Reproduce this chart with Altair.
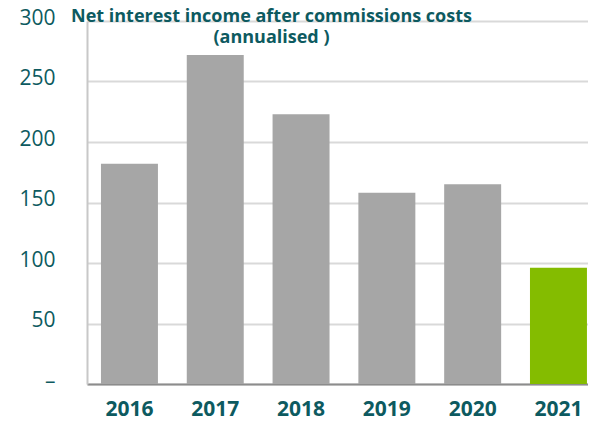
import altair as alt
import pandas as pd

years = ["2016", "2017", "2018", "2019", "2020", "2021"]
values = [182, 272, 223, 158, 165, 96]
colors = ["#a6a6a6", "#a6a6a6", "#a6a6a6", "#a6a6a6", "#a6a6a6", "#84bc00"]

df = pd.DataFrame({"year": years, "value": values, "color": colors})

TEAL = "#0d5a60"
FONT = "Open Sans"

chart = alt.Chart(df, title=alt.Title(
    ["Net interest income after commissions costs", "(annualised )"],
    fontSize=18, font=FONT, fontWeight="bold", color=TEAL,
    anchor="middle", dx=-66, offset=-40, lineHeight=21,
)).mark_bar().encode(
    x=alt.X("year:N", sort=years, title=None,
            scale=alt.Scale(paddingInner=0.336, paddingOuter=0.0875, align=0.93),
            axis=alt.Axis(labelAngle=0, labelFont=FONT, labelFontSize=21,
                          labelFontWeight="bold", labelColor=TEAL,
                          labelPadding=14, ticks=False, domainColor="#8c8c8c",
                          domainWidth=2, grid=False)),
    y=alt.Y("value:Q", title=None,
            scale=alt.Scale(domain=[0, 300], nice=False),
            axis=alt.Axis(values=[0, 50, 100, 150, 200, 250, 300],
                          labelExpr="datum.value == 0 ? '–' : datum.label",
                          labelFont=FONT, labelFontSize=21, labelColor=TEAL,
                          labelPadding=32, labelOffset=-3, ticks=False,
                          domainColor="#c8c8c8", domainWidth=2,
                          gridColor="#d9d9d9", gridWidth=2)),
    color=alt.Color("color:N", scale=None),
).properties(
    width=501, height=363,
    autosize=alt.AutoSizeParams(type="none"),
    padding={"left": 79, "top": 13, "right": 0, "bottom": 36},
).configure_view(stroke=None)

chart.save("out.html", embed_options={"renderer": "svg", "actions": False})
